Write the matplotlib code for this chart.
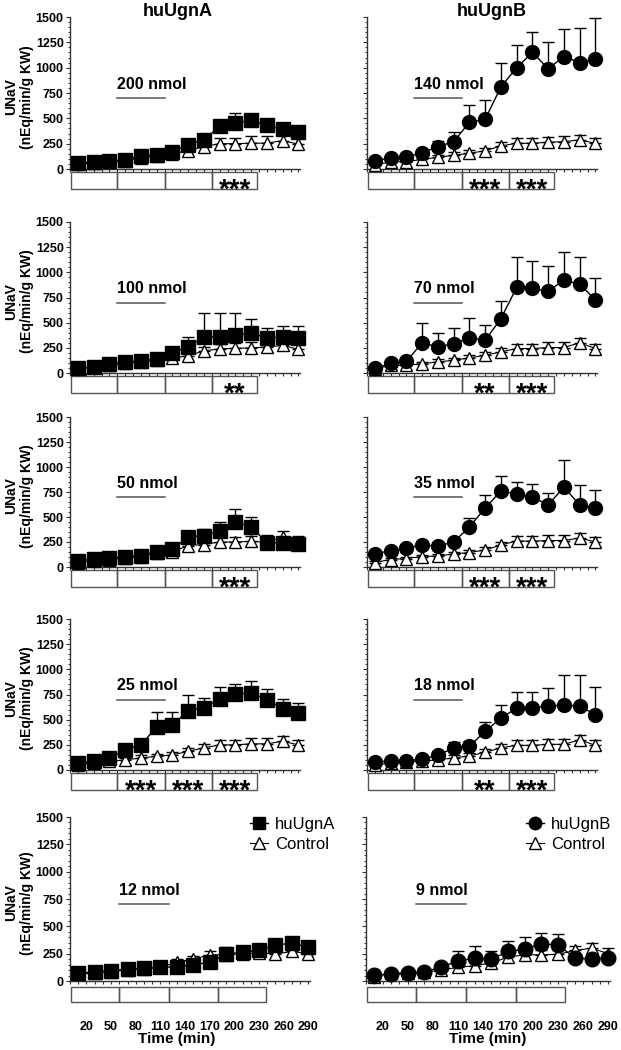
import matplotlib
matplotlib.use("Agg")
import matplotlib.pyplot as plt
import matplotlib.transforms as mtransforms
from matplotlib.lines import Line2D
from matplotlib.patches import Rectangle
import numpy as np

plt.rcParams['font.family'] = ['Liberation Sans', 'DejaVu Sans']

# ---- data (UNaV, nEq/min/g KW) ----
times = [10, 30, 50, 70, 90, 110, 130, 150, 170, 190, 210, 230, 250, 270, 290]
tick_times = [20, 50, 80, 110, 140, 170, 200, 230, 260, 290]
period_edges = [1, 60, 120, 180, 238]

A200 = [55, 70, 80, 90, 130, 140, 170, 240, 290, 420, 450, 480, 430, 390, 370]
A200_err = [40, 40, 40, 40, 30, 30, 30, 30, 40, 60, 100, 40, 30, 30, 40]
ctrl_A200 = [45, 60, 65, 80, 110, 130, 150, 180, 220, 250, 250, 255, 255, 280, 245]
ctrl_A200_err = [20, 20, 20, 20, 25, 25, 30, 30, 40, 60, 60, 70, 70, 60, 60]

B140 = [80, 110, 120, 160, 220, 270, 460, 490, 810, 1000, 1150, 990, 1110, 1050, 1090]
B140_err = [20, 20, 20, 30, 60, 100, 170, 190, 240, 220, 200, 260, 270, 340, 400]
ctrl_B140 = [40, 70, 72, 95, 115, 135, 155, 180, 228, 254, 254, 264, 270, 287, 254]
ctrl_B140_err = [20, 20, 20, 25, 25, 30, 30, 30, 35, 50, 50, 55, 55, 50, 50]

A100 = [50, 55, 90, 110, 120, 140, 200, 260, 360, 360, 375, 400, 345, 360, 345]
A100_err = [40, 60, 30, 30, 30, 30, 40, 100, 235, 235, 220, 140, 100, 110, 120]
ctrl_A100 = [45, 60, 75, 95, 110, 125, 150, 170, 220, 240, 245, 250, 258, 275, 235]
ctrl_A100_err = [20, 20, 20, 20, 25, 25, 30, 30, 40, 50, 50, 55, 55, 50, 50]

B70 = [45, 95, 115, 300, 260, 290, 350, 325, 540, 850, 840, 810, 925, 880, 730]
B70_err = [20, 30, 30, 200, 140, 160, 200, 150, 180, 300, 275, 250, 280, 275, 210]
ctrl_B70 = [40, 75, 75, 93, 110, 126, 150, 176, 210, 243, 243, 253, 253, 300, 243]
ctrl_B70_err = [20, 20, 20, 20, 25, 25, 30, 30, 35, 50, 50, 55, 55, 50, 50]

A50 = [60, 80, 90, 100, 115, 155, 180, 300, 315, 365, 450, 400, 245, 240, 230]
A50_err = [30, 30, 30, 30, 30, 30, 30, 60, 70, 85, 130, 105, 80, 40, 80]
ctrl_A50 = [45, 60, 75, 90, 105, 140, 150, 215, 225, 250, 250, 257, 245, 300, 250]
ctrl_A50_err = [20, 20, 20, 20, 25, 25, 30, 30, 40, 50, 50, 55, 55, 60, 50]

B35 = [135, 160, 190, 220, 210, 250, 400, 590, 760, 730, 700, 620, 800, 620, 590]
B35_err = [20, 20, 20, 20, 20, 30, 90, 130, 150, 125, 130, 125, 270, 200, 180]
ctrl_B35 = [45, 75, 85, 105, 110, 130, 145, 170, 220, 260, 258, 265, 265, 290, 250]
ctrl_B35_err = [20, 20, 20, 20, 25, 25, 30, 30, 35, 50, 50, 55, 55, 50, 50]

A25 = [65, 90, 115, 200, 250, 425, 445, 590, 620, 705, 755, 765, 700, 610, 570]
A25_err = [20, 20, 20, 20, 30, 150, 130, 160, 100, 120, 100, 120, 100, 100, 100]
ctrl_A25 = [50, 70, 85, 100, 120, 135, 150, 185, 220, 250, 250, 260, 260, 285, 250]
ctrl_A25_err = [20, 20, 20, 20, 25, 25, 30, 30, 35, 50, 50, 55, 55, 50, 50]

B18 = [80, 90, 90, 110, 145, 220, 235, 385, 515, 615, 620, 635, 645, 635, 550]
B18_err = [20, 20, 20, 20, 20, 60, 50, 95, 130, 160, 155, 180, 300, 310, 275]
ctrl_B18 = [50, 70, 80, 90, 100, 120, 140, 175, 220, 245, 245, 255, 255, 300, 245]
ctrl_B18_err = [20, 20, 20, 20, 25, 25, 30, 30, 35, 50, 50, 55, 55, 50, 50]

A12 = [70, 85, 95, 110, 115, 130, 125, 150, 170, 245, 265, 280, 330, 345, 310]
A12_err = [20, 20, 20, 20, 20, 20, 20, 20, 20, 70, 40, 30, 30, 40, 40]
ctrl_A12 = [60, 75, 85, 100, 110, 125, 172, 200, 240, 240, 250, 255, 248, 270, 250]
ctrl_A12_err = [20, 20, 20, 20, 20, 25, 25, 30, 30, 40, 40, 40, 40, 40, 40]

B9 = [55, 60, 70, 80, 130, 180, 210, 200, 270, 290, 340, 330, 210, 200, 210]
B9_err = [20, 20, 20, 20, 30, 95, 110, 75, 95, 110, 100, 100, 30, 30, 30]
ctrl_B9 = [40, 75, 70, 80, 100, 125, 140, 165, 218, 240, 240, 244, 280, 300, 250]
ctrl_B9_err = [20, 20, 20, 20, 25, 25, 30, 30, 35, 40, 40, 40, 40, 50, 50]

doses_A = ["200 nmol", "100 nmol", "50 nmol", "25 nmol", "12 nmol"]
doses_B = ["140 nmol", "70 nmol", "35 nmol", "18 nmol", "9 nmol"]
stars_A = [["", "", "", "***"], ["", "", "", "**"], ["", "", "", "***"],
           ["", "***", "***", "***"], ["", "", "", ""]]
stars_B = [["", "", "***", "***"], ["", "", "**", "***"], ["", "", "***", "***"],
           ["", "", "**", "***"], ["", "", "", ""]]

series_A = [(A200, A200_err, ctrl_A200, ctrl_A200_err),
            (A100, A100_err, ctrl_A100, ctrl_A100_err),
            (A50, A50_err, ctrl_A50, ctrl_A50_err),
            (A25, A25_err, ctrl_A25, ctrl_A25_err),
            (A12, A12_err, ctrl_A12, ctrl_A12_err)]
series_B = [(B140, B140_err, ctrl_B140, ctrl_B140_err),
            (B70, B70_err, ctrl_B70, ctrl_B70_err),
            (B35, B35_err, ctrl_B35, ctrl_B35_err),
            (B18, B18_err, ctrl_B18, ctrl_B18_err),
            (B9, B9_err, ctrl_B9, ctrl_B9_err)]

# ---- layout in pixels ----
W, H = 621, 1050
fig = plt.figure(figsize=(6.21, 10.5), dpi=100)

row_y = [(17, 169), (222, 373), (417, 567), (619, 770), (817, 981)]
col_x_top = [(70, 300), (367, 597)]
col_x_bottom = [(70, 310), (366, 610)]


def px_axes(x0, x1, y0, y1):
    return fig.add_axes([x0 / W, 1 - y1 / H, (x1 - x0) / W, (y1 - y0) / H])


def no_clip(container):
    line, caps, bars = container.lines
    line.set_clip_on(False)
    for c in caps:
        c.set_clip_on(False)
    for b in bars:
        b.set_clip_on(False)


def draw_panel(ax, marker, data, dose, stars, show_ylabels, bottom_row):
    vals, errs, cvals, cerrs = data
    zeros = [0] * len(times)
    c = ax.errorbar(times, cvals, yerr=[zeros, cerrs], marker='^', ms=9,
                    mfc='white', mec='black', mew=1, color='black', lw=0.8,
                    capsize=4.5, elinewidth=0.8, capthick=0.8, zorder=3)
    no_clip(c)
    t = ax.errorbar(times, vals, yerr=[zeros, errs], marker=marker,
                    ms=10 if not bottom_row else 10.5,
                    mfc='black', mec='black', color='black', lw=1,
                    capsize=4.5, elinewidth=1, capthick=1, zorder=4)
    no_clip(t)

    ax.set_xlim(0, 292)
    ax.set_ylim(0, 1500)
    for s in ['top', 'right']:
        ax.spines[s].set_visible(False)
    for s in ['left', 'bottom']:
        ax.spines[s].set_linewidth(1)
        ax.spines[s].set_color('#333333')

    ax.set_xticks(tick_times)
    ax.set_xticks(np.arange(0, 300, 10), minor=True)
    ax.set_yticks(np.arange(0, 1501, 250))
    ax.set_yticks(np.arange(0, 1501, 50), minor=True)
    ax.tick_params(axis='x', which='both', length=2.5, width=0.8, color='#333333')
    ax.tick_params(axis='y', which='major', length=3, width=0.8, color='#333333')
    ax.tick_params(axis='y', which='minor', length=1.8, width=0.7, color='#333333')

    if show_ylabels:
        ax.set_yticklabels([str(v) for v in np.arange(0, 1501, 250)],
                           fontsize=9, fontweight='bold')
        ax.tick_params(axis='y', pad=1.5)
    else:
        ax.set_yticklabels([])
    if bottom_row:
        ax.set_xticklabels([str(v) for v in tick_times], fontsize=9, fontweight='bold')
        ax.tick_params(axis='x', pad=26)
    else:
        ax.set_xticklabels([])

    # infusion bar + dose label
    ax.plot([60, 120], [700, 700], color='#555555', lw=1.1, zorder=2)
    ax.text(60, 760, dose, fontsize=11.5, fontweight='bold', ha='left', va='bottom')

    # period boxes below axis
    trans = mtransforms.blended_transform_factory(ax.transData, ax.transAxes)
    axh = ax.get_position().height * H
    if bottom_row:
        ytop, ybot = -6 / axh, -21 / axh
    else:
        ytop, ybot = -3 / axh, -20 / axh
    for i in range(4):
        x0, x1 = period_edges[i], period_edges[i + 1]
        ax.add_patch(Rectangle((x0, ybot), x1 - x0, ytop - ybot, transform=trans,
                               fill=False, ec='#555555', lw=1, clip_on=False))
        if stars[i]:
            ax.text((x0 + x1) / 2, ybot - 9 / axh, stars[i],
                    transform=trans, ha='center', va='baseline', fontsize=20,
                    fontweight='bold')


for r in range(5):
    y0, y1 = row_y[r]
    cols = col_x_bottom if r == 4 else col_x_top
    axA = px_axes(cols[0][0], cols[0][1], y0, y1)
    axB = px_axes(cols[1][0], cols[1][1], y0, y1)
    draw_panel(axA, 's', series_A[r], doses_A[r], stars_A[r], True, r == 4)
    draw_panel(axB, 'o', series_B[r], doses_B[r], stars_B[r], False, r == 4)
    fig.text(19 / W, 1 - ((y0 + y1) / 2 + 4) / H, "UNaV\n(nEq/min/g KW)",
             rotation=90, ha='center', va='center', fontsize=10,
             fontweight='bold', linespacing=1.1)
    if r == 4:
        hA = [Line2D([], [], marker='s', color='black', ms=9, lw=1),
              Line2D([], [], marker='^', color='black', mfc='white', ms=8, lw=0.8)]
        axA.legend(hA, ["huUgnA", "Control"], loc='upper left',
                   bbox_to_anchor=(0.75, 1.0), frameon=False, fontsize=12,
                   handlelength=1.1, handletextpad=0.4, borderaxespad=0,
                   borderpad=0, labelspacing=0.3)
        hB = [Line2D([], [], marker='o', color='black', ms=9, lw=1),
              Line2D([], [], marker='^', color='black', mfc='white', ms=8, lw=0.8)]
        axB.legend(hB, ["huUgnB", "Control"], loc='upper left',
                   bbox_to_anchor=(0.655, 1.0), frameon=False, fontsize=12,
                   handlelength=1.1, handletextpad=0.4, borderaxespad=0,
                   borderpad=0, labelspacing=0.3)
        fig.text(177 / W, 1 - 1039 / H, "Time (min)", ha='center', va='center',
                 fontsize=11, fontweight='bold')
        fig.text(488 / W, 1 - 1039 / H, "Time (min)", ha='center', va='center',
                 fontsize=11, fontweight='bold')

fig.text(178 / W, 1 - 12 / H, "huUgnA", ha='center', va='center',
         fontsize=13, fontweight='bold')
fig.text(492 / W, 1 - 12 / H, "huUgnB", ha='center', va='center',
         fontsize=13, fontweight='bold')

fig.savefig("out.png", dpi=100)
